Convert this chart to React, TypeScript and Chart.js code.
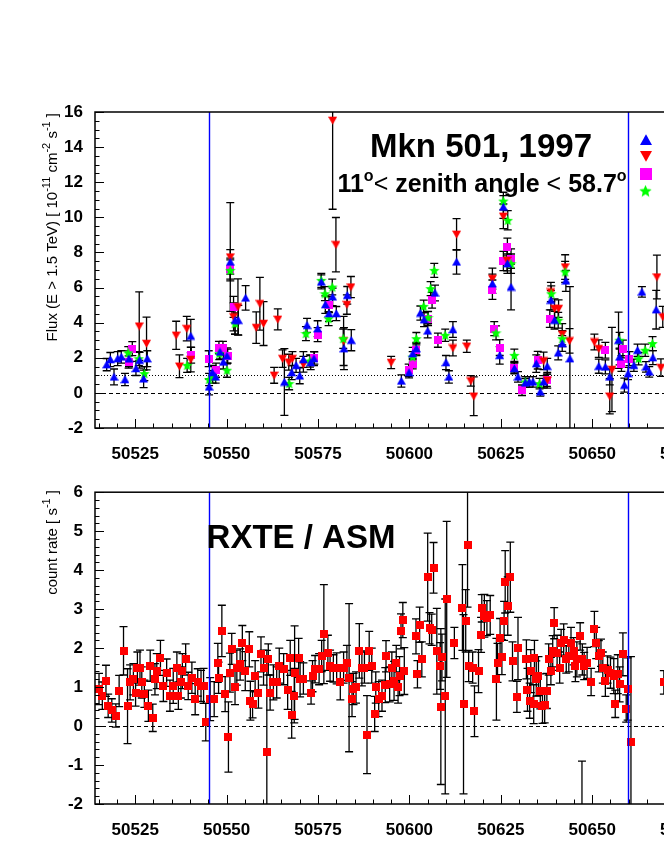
import React, { useEffect, useRef } from 'react';
import { Chart, registerables } from 'chart.js';

Chart.register(...registerables);

const FONT = '"Liberation Sans", Arial, Helvetica, sans-serif';

// ---------------- axis ranges / ticks ----------------
const X_MIN = 50514;
const X_MAX = 50700;
const X_STEP = 25;
const FLUX_MIN = -2;
const FLUX_MAX = 16;
const FLUX_STEP = 2;
const RATE_MIN = -2;
const RATE_MAX = 6;
const RATE_STEP = 1;
const markerDays = [50545.1, 50659.8];

// ---------------- TeV flux: blue upward triangles ----------------
const triDays = [50517.2, 50518.2, 50519.2, 50520.2, 50521.2, 50522.2, 50523.3, 50525.2, 50526.2, 50527.3, 50528.3,
  50540.2,
  50545.2, 50546.1, 50547.0, 50548.2, 50549.1, 50550.1, 50551.0, 50552.3, 50553.2, 50555.2,
  50565.8, 50567.8, 50569.0, 50570.0, 50571.0, 50572.0, 50573.0, 50573.9, 50574.9, 50575.9, 50577.0, 50578.0, 50579.0, 50580.0, 50582.1, 50583.0, 50584.1,
  50597.8, 50599.9, 50600.9, 50601.9, 50603.0, 50604.0, 50605.0, 50607.0, 50610.0, 50610.8, 50611.9, 50612.9,
  50622.7, 50624.7, 50625.7, 50626.8, 50627.8, 50628.7, 50629.7, 50631.7, 50632.8, 50633.8, 50634.7, 50635.8, 50636.7, 50637.7, 50638.7, 50639.7, 50640.7, 50641.8, 50642.8, 50643.9,
  50651.8, 50653.6, 50654.8, 50657.2, 50657.5, 50658.8, 50659.8, 50661.4, 50662.4, 50663.6, 50664.7, 50665.6, 50666.6, 50667.5];
const triFlux = [1.61, 1.90, 0.91, 1.95, 2.05, 0.76, 1.94, 1.39, 1.86, 0.80, 1.95,
  3.24,
  0.34, 1.16, 0.91, 2.33, 1.76, 2.11, 7.46, 4.14, 4.14, 5.41,
  0.62, 1.16, 1.57, 0.97, 1.90, 3.85, 1.73, 1.95, 3.66, 6.32, 5.03, 4.52, 5.47, 4.52, 2.52, 5.56, 3.00,
  0.68, 1.16, 2.24, 2.52, 4.55, 4.17, 3.53, 5.69, 1.73, 0.91, 3.61, 7.46,
  6.22, 2.14, 10.59, 7.36, 6.03, 1.39, 0.91, 0.57, 0.63, 0.63, 1.67, 0.06, 0.63, 1.52, 5.28, 4.14, 2.28, 2.81, 6.38, 1.95,
  1.52, 1.48, 0.91, 3.00, 2.05, 0.44, 1.10, 1.57, 2.43, 5.75, 1.48, 1.20, 2.01, 4.74];
const triErr = [0.35, 0.40, 0.45, 0.40, 0.35, 0.35, 0.45, 0.40, 0.45, 0.50, 0.45,
  0.95,
  0.45, 0.40, 0.35, 0.40, 0.40, 0.45, 0.70, 0.80, 0.85, 0.70,
  1.90, 0.40, 0.40, 0.45, 0.45, 0.40, 0.40, 0.40, 0.45, 0.40, 0.50, 0.45, 0.50, 0.40, 1.20, 0.50, 0.60,
  0.35, 0.30, 0.35, 0.35, 0.40, 0.40, 0.40, 0.45, 0.40, 0.35, 0.45, 0.70,
  0.55, 0.50, 0.65, 0.55, 1.30, 0.30, 0.30, 0.25, 0.30, 0.30, 0.50, 0.25, 0.35, 0.45, 0.55, 0.50, 0.40, 0.45, 0.60, 4.10,
  0.40, 0.40, 0.45, 1.60, 0.45, 0.40, 0.35, 0.35, 0.35, 0.30, 0.30, 0.30, 0.40, 1.10];

// ---------------- TeV flux: red downward triangles ----------------
const invDays = [50526.1, 50528.1, 50536.2, 50537.1, 50539.1, 50540.2, 50551.0, 50551.9, 50553.1, 50558.1, 50559.1, 50560.1, 50563.0, 50564.0, 50565.3, 50567.0, 50568.0, 50571.0, 50579.0, 50579.9, 50582.0, 50582.9, 50584.0, 50595.0, 50611.9, 50612.9, 50615.7, 50616.8, 50617.6, 50622.7, 50625.7, 50626.7, 50636.7, 50637.7, 50638.7, 50639.7, 50640.8, 50641.8, 50642.6, 50643.8, 50650.6, 50651.8, 50654.8, 50655.4, 50667.7, 50668.8, 50669.3];
const invFlux = [3.80, 2.81, 3.28, 1.52, 3.66, 1.90, 7.74, 4.33, 4.90, 3.72, 5.08, 3.95, 1.00, 4.19, 1.95, 1.75, 1.95, 1.63, 15.52, 8.44, 2.96, 5.03, 6.03, 1.73, 2.56, 9.03, 2.66, 0.68, -0.19, 6.51, 10.06, 7.55, 1.82, 0.72, 5.75, 4.80, 4.80, 3.34, 7.17, 2.96, 2.90, 2.52, -0.19, 1.33, 6.60, 1.44, 4.33];
const invErr = [1.95, 1.50, 0.80, 0.65, 0.70, 0.70, 3.10, 0.80, 1.60, 0.90, 1.50, 1.25, 0.45, 0.60, 0.50, 0.45, 0.40, 0.45, 5.06, 1.55, 1.40, 0.55, 0.60, 0.35, 0.45, 0.90, 0.35, 0.30, 1.10, 0.60, 0.70, 0.60, 0.50, 0.45, 0.55, 0.55, 0.50, 0.60, 0.70, 0.70, 0.45, 0.50, 1.00, 2.40, 1.25, 0.50, 0.60];

// ---------------- TeV flux: magenta squares ----------------
const sqDays = [50523.2, 50524.2, 50540.3, 50545.1, 50547.1, 50547.9, 50549.0, 50550.3, 50551.0, 50551.9, 50574.0, 50574.9, 50578.0, 50599.8, 50600.9, 50601.9, 50605.1, 50606.2, 50607.8, 50622.7, 50623.2, 50624.7, 50625.7, 50626.8, 50627.8, 50628.7, 50630.8, 50635.1, 50637.6, 50638.4, 50653.6, 50658.0, 50658.4, 50660.2];
const sqFlux = [1.76, 2.52, 2.14, 1.95, 1.29, 2.58, 2.58, 2.09, 7.08, 4.90, 1.99, 3.32, 5.03, 1.29, 1.67, 2.47, 4.23, 5.28, 3.00, 5.88, 3.66, 2.58, 7.51, 8.31, 7.65, 1.44, 0.15, 1.86, 0.72, 4.23, 2.43, 1.67, 2.50, 1.95];
const sqErr = [0.35, 0.40, 0.45, 0.45, 0.40, 0.35, 0.35, 0.40, 0.60, 0.60, 0.35, 0.40, 0.45, 0.35, 0.30, 0.35, 0.40, 0.45, 0.40, 0.55, 0.40, 0.45, 0.55, 0.50, 0.55, 0.30, 0.30, 0.50, 0.35, 0.50, 0.45, 0.45, 0.50, 0.40];

// ---------------- TeV flux: green stars ----------------
const starDays = [50523.1, 50526.0, 50527.5, 50539.2, 50545.2, 50546.2, 50548.0, 50550.1, 50551.0, 50552.3, 50567.1, 50571.7, 50572.8, 50575.9, 50576.9, 50577.9, 50578.9, 50581.9, 50600.9, 50601.9, 50603.9, 50605.1, 50605.8, 50606.8, 50609.8, 50623.7, 50625.7, 50626.9, 50627.8, 50628.7, 50631.7, 50635.6, 50638.8, 50640.7, 50641.8, 50642.6, 50657.5, 50662.7, 50664.5, 50666.5];
const starFlux = [2.28, 1.95, 1.10, 1.57, 0.76, 0.91, 2.24, 1.29, 6.98, 3.95, 0.53, 3.38, 1.82, 6.41, 5.65, 4.23, 6.03, 3.09, 2.05, 3.09, 4.93, 4.29, 5.94, 6.98, 3.28, 3.42, 10.93, 9.83, 7.36, 2.14, 0.63, 0.53, 5.65, 4.14, 3.09, 6.89, 3.00, 1.95, 2.43, 2.81];
const starErr = [0.35, 0.40, 0.40, 0.40, 0.35, 0.35, 0.35, 0.40, 0.60, 0.60, 0.35, 0.40, 0.35, 0.40, 0.40, 0.40, 0.45, 0.55, 0.30, 0.35, 0.35, 0.35, 0.40, 0.40, 0.35, 0.40, 0.50, 0.55, 0.55, 0.35, 0.30, 0.30, 0.45, 0.45, 0.45, 0.60, 0.45, 0.35, 0.35, 0.40];

// ---------------- RXTE / ASM count rate ----------------
const asmDays = [
  50515.1, 50516.0, 50517.0, 50517.6, 50518.6, 50519.7, 50520.6, 50521.8, 50522.9, 50523.6,
  50524.5, 50525.1, 50525.6, 50526.3, 50526.8, 50527.5, 50528.6, 50529.1, 50529.8, 50530.4,
  50530.9, 50531.9, 50532.7, 50533.6, 50534.5, 50535.4, 50536.4, 50536.8, 50537.5, 50537.9,
  50538.8, 50539.5, 50540.5, 50541.4, 50542.1, 50543.0, 50543.7, 50544.3, 50545.5, 50546.6,
  50547.6, 50547.8, 50548.7, 50549.6, 50550.5, 50550.9, 50551.4, 50552.3, 50552.8, 50553.7,
  50554.3, 50555.1, 50556.2, 50556.5, 50557.1, 50557.8, 50558.7, 50559.4, 50560.1, 50561.0,
  50561.4, 50561.9, 50562.8, 50563.7, 50564.4, 50565.6, 50566.7, 50567.4, 50567.8, 50568.5,
  50568.6, 50569.7, 50570.1, 50571.0, 50573.1, 50573.5, 50574.2, 50575.3, 50576.0, 50576.6,
  50577.7, 50578.3, 50579.2, 50580.1, 50581.1, 50582.0, 50582.9, 50583.5, 50584.3, 50584.7,
  50585.4, 50586.3, 50587.0, 50587.7, 50588.4, 50589.0, 50589.7, 50590.5, 50590.8, 50591.6,
  50592.5, 50593.4, 50593.6, 50594.6, 50595.2, 50595.8, 50596.4, 50596.9, 50597.3, 50597.7,
  50598.2, 50598.6, 50601.8, 50602.2, 50602.8, 50603.4, 50605.0, 50605.5, 50606.1, 50606.6,
  50607.5, 50608.4, 50608.6, 50608.9, 50609.8, 50610.2, 50612.3, 50614.5, 50614.8, 50615.4,
  50615.9, 50616.2, 50617.3, 50617.8, 50618.9, 50619.6, 50619.8, 50620.5, 50621.2, 50622.1,
  50623.8, 50624.1, 50624.8, 50625.3, 50625.9, 50626.2, 50626.9, 50627.6, 50628.2, 50629.4,
  50629.7, 50632.0, 50632.3, 50632.9, 50633.2, 50634.0, 50634.2, 50634.7, 50635.3, 50635.8,
  50636.4, 50637.0, 50637.6, 50638.1, 50638.7, 50639.2, 50639.6, 50640.4, 50641.1, 50641.5,
  50642.2, 50642.9, 50643.6, 50644.2, 50644.9, 50645.4, 50645.8, 50646.7, 50647.2, 50647.3,
  50647.8, 50648.6, 50649.7, 50650.6, 50651.1, 50651.8, 50652.4, 50652.9, 50653.6, 50654.2,
  50655.0, 50655.9, 50656.3, 50657.0, 50657.5, 50658.4, 50659.3, 50659.7, 50660.6, 50669.6];
const asmRate = [
  0.95, 0.78, 1.16, 0.52, 0.40, 0.27, 0.90, 1.93, 0.51, 1.12,
  1.20, 0.86, 1.50, 1.50, 1.12, 0.83, 0.52, 1.55, 0.21, 1.20,
  1.41, 1.75, 1.03, 1.37, 0.78, 1.03, 1.50, 0.78, 1.12, 1.41,
  1.71, 1.03, 1.24, 0.69, 1.12, 1.03, 1.03, 0.10, 0.69, 0.69,
  1.62, 1.24, 2.44, 0.82, -0.28, 1.37, 1.98, 1.00, 1.50, 1.58,
  2.13, 1.41, 1.97, 0.65, 0.56, 1.28, 0.86, 1.84, 1.50, -0.66,
  1.71, 0.86, 1.12, 1.12, 1.55, 1.46, 0.93, 1.75, 0.29, 0.78,
  1.37, 1.75, 1.20, 1.22, 0.86, 1.28, 1.46, 1.46, 1.80, 2.36,
  1.88, 1.55, 1.48, 1.48, 1.12, 1.50, 1.62, 1.24, 0.69, 0.95,
  0.99, 1.93, 1.48, 1.50, -0.22, 1.93, 1.55, 0.31, 0.99, 0.69,
  0.78, 1.05, 1.79, 1.07, 1.50, 1.16, 1.62, 0.99, 1.28, 2.43,
  2.72, 1.41, 2.30, 1.33, 2.60, 1.71, 3.82, 2.51, 2.47, 4.06,
  1.92, 1.54, 0.50, 1.76, 0.76, 3.25, 2.13, 3.04, 0.56, 2.70,
  4.65, 1.54, 1.50, 0.38, 1.41, 2.34, 3.02, 2.83, 2.77, 2.85,
  1.20, 1.62, 2.26, 1.77, 2.70, 3.70, 3.08, 3.82, 1.66, 0.75,
  1.99, 1.71, 0.93, 0.65, 1.41, 0.56, 1.75, 1.22, 1.28, 0.89,
  0.52, 0.53, 0.90, 1.71, 1.41, 1.92, 2.64, 1.88, 1.50, 2.13,
  2.22, 1.71, 1.79, 2.13, 1.92, 1.54, 1.71, 2.30, -3.20, 1.71,
  1.54, 1.62, 1.13, 2.49, 2.13, 1.79, 1.88, 1.50, 1.16, 1.45,
  1.37, 1.28, 0.57, 1.33, 1.07, 1.84, 0.45, 0.95, -0.42, 1.12];
const asmErr = [
  0.40, 0.35, 0.40, 0.30, 0.30, 0.30, 0.40, 0.62, 0.96, 0.45,
  0.40, 0.35, 0.40, 0.45, 0.40, 0.35, 0.40, 0.40, 0.35, 0.40,
  0.45, 0.45, 0.40, 0.35, 0.40, 0.45, 0.40, 0.35, 0.40, 0.45,
  0.40, 0.35, 0.40, 0.40, 0.35, 0.40, 0.45, 0.48, 0.55, 0.45,
  0.50, 0.40, 0.66, 0.45, 0.90, 0.50, 0.40, 0.45, 0.45, 0.40,
  0.45, 0.50, 0.45, 0.50, 0.35, 0.40, 0.40, 0.45, 0.45, 2.60,
  0.40, 0.45, 0.45, 0.40, 0.45, 0.40, 0.50, 0.45, 0.60, 0.70,
  1.20, 0.50, 0.45, 0.40, 0.30, 0.40, 0.35, 0.40, 0.40, 1.27,
  0.45, 0.40, 0.35, 0.40, 0.45, 0.40, 0.45, 1.90, 0.45, 0.40,
  0.40, 0.70, 0.45, 0.40, 1.00, 0.50, 0.45, 0.45, 0.40, 0.45,
  0.40, 0.45, 0.40, 0.45, 0.40, 0.50, 0.45, 0.40, 0.50, 0.45,
  0.45, 0.60, 0.45, 0.35, 0.45, 0.45, 1.13, 0.40, 0.40, 0.65,
  1.10, 0.60, 2.00, 0.60, 2.50, 2.00, 0.40, 1.10, 2.30, 0.80,
  1.60, 0.40, 0.40, 0.65, 0.55, 0.45, 0.35, 0.55, 0.45, 0.50,
  1.05, 0.50, 0.50, 0.45, 0.50, 0.80, 0.75, 0.90, 0.50, 0.40,
  0.80, 0.50, 0.55, 0.45, 0.55, 0.50, 0.45, 0.45, 0.50, 0.45,
  0.45, 0.45, 0.45, 0.40, 0.35, 0.40, 0.40, 0.45, 0.40, 0.35,
  0.40, 0.35, 0.40, 0.40, 0.35, 0.40, 0.45, 0.35, 2.30, 0.40,
  0.35, 0.40, 0.35, 0.45, 0.40, 0.40, 0.35, 0.40, 0.40, 0.35,
  0.40, 0.45, 0.35, 0.50, 0.45, 0.55, 0.35, 0.80, 2.20, 0.30];

// ---------------- layout constants ----------------
const CW = 815;
const LEFT_W = 95;
const PAD_R = 40;
const TOP_H = 470;
const BOT_H = 390;
const BOT_OFFSET = 470;

type Kind = 'up' | 'down' | 'square' | 'star';

function marker(kind: Kind, color: string, size: number): HTMLCanvasElement {
  const c = document.createElement('canvas');
  c.width = size;
  c.height = size;
  const g = c.getContext('2d')!;
  g.fillStyle = color;
  g.beginPath();
  const s = size;
  if (kind === 'up') {
    g.moveTo(s / 2, 0.3);
    g.lineTo(s, s * 0.92);
    g.lineTo(0, s * 0.92);
  } else if (kind === 'down') {
    g.moveTo(0, s * 0.08);
    g.lineTo(s, s * 0.08);
    g.lineTo(s / 2, s - 0.3);
  } else if (kind === 'square') {
    g.rect(0, 0, s, s);
  } else {
    const R = s / 2;
    const r = R * 0.45;
    for (let k = 0; k < 10; k++) {
      const a = -Math.PI / 2 + (k * Math.PI) / 5;
      const rad = k % 2 === 0 ? R : r;
      const px = s / 2 + rad * Math.cos(a);
      const py = s / 2 + 0.4 + rad * Math.sin(a);
      if (k === 0) g.moveTo(px, py);
      else g.lineTo(px, py);
    }
  }
  g.closePath();
  g.fill();
  return c;
}

function pts(days: number[], vals: number[], errs: number[]) {
  return days.map((x, i) => ({ x, y: vals[i], e: errs[i] }));
}

const errorBarPlugin = {
  id: 'errorBars',
  beforeDatasetsDraw(chart: any) {
    const { ctx, chartArea: a } = chart;
    const ys = chart.scales.y;
    ctx.save();
    ctx.beginPath();
    ctx.rect(a.left, a.top, a.right - a.left, a.bottom - a.top);
    ctx.clip();
    ctx.strokeStyle = '#000';
    ctx.lineWidth = 1.3;
    chart.data.datasets.forEach((ds: any, di: number) => {
      const meta = chart.getDatasetMeta(di);
      ds.data.forEach((p: any, i: number) => {
        const el = meta.data[i];
        if (!el) return;
        const x = el.x;
        const y1 = ys.getPixelForValue(p.y + p.e);
        const y2 = ys.getPixelForValue(p.y - p.e);
        ctx.beginPath();
        ctx.moveTo(x, y1);
        ctx.lineTo(x, y2);
        ctx.moveTo(x - 4, y1);
        ctx.lineTo(x + 4, y1);
        ctx.moveTo(x - 4, y2);
        ctx.lineTo(x + 4, y2);
        ctx.stroke();
      });
    });
    ctx.restore();
  },
};

function refLinesPlugin(dottedAtOne: boolean) {
  return {
    id: 'refLines',
    beforeDatasetsDraw(chart: any) {
      const { ctx, chartArea: a } = chart;
      const ys = chart.scales.y;
      ctx.save();
      ctx.strokeStyle = '#000';
      ctx.lineWidth = 1;
      const y0 = Math.round(ys.getPixelForValue(0)) + 0.5;
      ctx.setLineDash([4, 3]);
      ctx.beginPath();
      ctx.moveTo(a.left, y0);
      ctx.lineTo(a.right, y0);
      ctx.stroke();
      if (dottedAtOne) {
        const y1 = Math.round(ys.getPixelForValue(1)) + 0.5;
        ctx.setLineDash([1, 2]);
        ctx.beginPath();
        ctx.moveTo(a.left, y1);
        ctx.lineTo(a.right, y1);
        ctx.stroke();
      }
      ctx.restore();
    },
  };
}

const blueLinesPlugin = {
  id: 'blueLines',
  afterDatasetsDraw(chart: any) {
    const { ctx, chartArea: a } = chart;
    const xs = chart.scales.x;
    ctx.save();
    ctx.strokeStyle = 'rgb(0,0,255)';
    ctx.lineWidth = 1.4;
    ctx.setLineDash([]);
    markerDays.forEach((d) => {
      const px = Math.round(xs.getPixelForValue(d)) + 0.5;
      ctx.beginPath();
      ctx.moveTo(px, a.top);
      ctx.lineTo(px, a.bottom);
      ctx.stroke();
    });
    ctx.restore();
  },
};

function frameTicksPlugin(yMin: number, yMax: number, yMinor: number, yMajorEvery: number) {
  return {
    id: 'frameTicks',
    afterDraw(chart: any) {
      const { ctx, chartArea: a } = chart;
      const xs = chart.scales.x;
      const ys = chart.scales.y;
      ctx.save();
      ctx.strokeStyle = '#000';
      ctx.lineWidth = 1;
      ctx.beginPath();
      for (let d = Math.ceil(X_MIN / 5) * 5; d <= X_MAX; d += 5) {
        const px = Math.round(xs.getPixelForValue(d)) + 0.5;
        const len = d % 25 === 0 ? 9 : 4.5;
        ctx.moveTo(px, a.bottom);
        ctx.lineTo(px, a.bottom - len);
      }
      const n = Math.round((yMax - yMin) / yMinor);
      for (let k = 0; k <= n; k++) {
        const v = yMin + k * yMinor;
        const py = Math.round(ys.getPixelForValue(v)) + 0.5;
        const len = k % yMajorEvery === 0 ? 9 : 4.5;
        ctx.moveTo(a.left, py);
        ctx.lineTo(a.left + len, py);
      }
      ctx.stroke();
      ctx.lineWidth = 1.5;
      ctx.strokeRect(a.left, a.top, a.right - a.left, a.bottom - a.top);
      ctx.restore();
    },
  };
}

type Seg = { t: string; sup?: boolean };

function drawVTitle(ctx: CanvasRenderingContext2D, segs: Seg[], xBase: number, yEnd: number, size: number) {
  const nf = `${size}px ${FONT}`;
  const sf = `${Math.round(size * 0.7)}px ${FONT}`;
  let total = 0;
  segs.forEach((s) => {
    ctx.font = s.sup ? sf : nf;
    total += ctx.measureText(s.t).width;
  });
  ctx.save();
  ctx.translate(xBase, yEnd);
  ctx.rotate(-Math.PI / 2);
  ctx.textAlign = 'left';
  ctx.textBaseline = 'alphabetic';
  ctx.fillStyle = '#000';
  let x = -total;
  segs.forEach((s) => {
    ctx.font = s.sup ? sf : nf;
    ctx.fillText(s.t, x, s.sup ? -size * 0.45 : 0);
    x += ctx.measureText(s.t).width;
  });
  ctx.restore();
}

type RSeg = { t: string; f: string; dy: number };
function drawRich(ctx: CanvasRenderingContext2D, segs: RSeg[], cx: number, base: number) {
  let total = 0;
  segs.forEach((s) => {
    ctx.font = s.f;
    total += ctx.measureText(s.t).width;
  });
  ctx.save();
  ctx.textAlign = 'left';
  ctx.textBaseline = 'alphabetic';
  ctx.fillStyle = '#000';
  let x = cx - total / 2;
  segs.forEach((s) => {
    ctx.font = s.f;
    ctx.fillText(s.t, x, base + s.dy);
    x += ctx.measureText(s.t).width;
  });
  ctx.restore();
}

function xAxis(height: number) {
  return {
    type: 'linear',
    position: 'bottom',
    min: X_MIN,
    max: X_MAX,
    grid: { display: false, drawTicks: false },
    border: { display: false },
    ticks: {
      stepSize: X_STEP,
      includeBounds: false,
      autoSkip: false,
      maxRotation: 0,
      padding: 16,
      color: '#000',
      font: { family: FONT, size: 17, weight: 'bold' },
      callback: (v: any) => String(v),
    },
    afterFit: (s: any) => {
      s.height = height;
    },
  };
}

function yAxis(min: number, max: number, step: number) {
  return {
    type: 'linear',
    position: 'left',
    min,
    max,
    grid: { display: false, drawTicks: false },
    border: { display: false },
    ticks: {
      stepSize: step,
      padding: 12,
      color: '#000',
      font: { family: FONT, size: 17, weight: 'bold' },
      callback: (v: any) => String(v),
    },
    afterFit: (s: any) => {
      s.width = LEFT_W;
    },
  };
}

export default function App() {
  const topRef = useRef<HTMLCanvasElement>(null);
  const botRef = useRef<HTMLCanvasElement>(null);

  useEffect(() => {
    const mTri = marker('up', '#0000ff', 9);
    const mInv = marker('down', '#ff0000', 9);
    const mSq = marker('square', '#ff00ff', 8);
    const mStar = marker('star', '#00ff00', 11);
    const mAsm = marker('square', '#ff0000', 8);
    const lTri = marker('up', '#0000ff', 12);
    const lInv = marker('down', '#ff0000', 12);
    const lSq = marker('square', '#ff00ff', 12);
    const lStar = marker('star', '#00ff00', 13);

    const topTexts = {
      id: 'topTexts',
      afterDraw(chart: any) {
        const ctx: CanvasRenderingContext2D = chart.ctx;
        ctx.save();
        ctx.fillStyle = '#000';
        ctx.textAlign = 'center';
        ctx.textBaseline = 'alphabetic';
        ctx.font = `bold 33px ${FONT}`;
        ctx.fillText('Mkn 501, 1997', 481, 157);
        ctx.restore();
        const b24 = `bold 25px ${FONT}`;
        const n24 = `25px ${FONT}`;
        const b15 = `bold 16px ${FONT}`;
        drawRich(ctx, [
          { t: '11', f: b24, dy: 0 },
          { t: 'o', f: b15, dy: -11 },
          { t: '<', f: n24, dy: 0 },
          { t: ' zenith angle ', f: b24, dy: 0 },
          { t: '<', f: n24, dy: 0 },
          { t: ' 58.7', f: b24, dy: 0 },
          { t: 'o', f: b15, dy: -11 },
        ], 482, 192);
        ctx.drawImage(lTri, 646 - 6, 140 - 6);
        ctx.drawImage(lInv, 646 - 6, 156 - 6);
        ctx.drawImage(lSq, 645.5 - 6, 174 - 6);
        ctx.drawImage(lStar, 645.5 - 6.5, 191 - 6.5);
        drawVTitle(ctx, [
          { t: 'Flux (E > 1.5 TeV) [ 10' },
          { t: '-11', sup: true },
          { t: ' cm' },
          { t: '-2', sup: true },
          { t: ' s' },
          { t: '-1', sup: true },
          { t: ' ]' },
        ], 57, 113, 15);
      },
    };

    const botTexts = {
      id: 'botTexts',
      afterDraw(chart: any) {
        const ctx: CanvasRenderingContext2D = chart.ctx;
        ctx.save();
        ctx.fillStyle = '#000';
        ctx.textAlign = 'center';
        ctx.textBaseline = 'alphabetic';
        ctx.font = `bold 33px ${FONT}`;
        ctx.fillText('RXTE / ASM', 301, 548 - BOT_OFFSET);
        ctx.restore();
        drawVTitle(ctx, [
          { t: 'count rate [ s' },
          { t: '-1', sup: true },
          { t: ' ]' },
        ], 57, 490 - BOT_OFFSET, 15);
      },
    };

    const common = {
      responsive: false,
      maintainAspectRatio: false,
      animation: false,
      events: [] as any[],
      plugins: { legend: { display: false }, tooltip: { enabled: false } },
    };

    const top = new Chart(topRef.current!, {
      type: 'scatter',
      data: {
        datasets: [
          { label: 'tri', data: pts(triDays, triFlux, triErr), pointStyle: mTri, pointRadius: 4 },
          { label: 'star', data: pts(starDays, starFlux, starErr), pointStyle: mStar, pointRadius: 4 },
          { label: 'inv', data: pts(invDays, invFlux, invErr), pointStyle: mInv, pointRadius: 4 },
          { label: 'sq', data: pts(sqDays, sqFlux, sqErr), pointStyle: mSq, pointRadius: 4 },
        ] as any,
      },
      options: {
        ...common,
        layout: { padding: { left: 0, right: PAD_R, top: 112, bottom: 0 } },
        scales: {
          x: xAxis(TOP_H - 428),
          y: yAxis(FLUX_MIN, FLUX_MAX, FLUX_STEP),
        } as any,
      } as any,
      plugins: [refLinesPlugin(true), errorBarPlugin, blueLinesPlugin, frameTicksPlugin(FLUX_MIN, FLUX_MAX, 0.5, 4), topTexts],
    });

    const bot = new Chart(botRef.current!, {
      type: 'scatter',
      data: {
        datasets: [
          { label: 'asm', data: pts(asmDays, asmRate, asmErr), pointStyle: mAsm, pointRadius: 4 },
        ] as any,
      },
      options: {
        ...common,
        layout: { padding: { left: 0, right: PAD_R, top: 489 - BOT_OFFSET, bottom: 0 } },
        scales: {
          x: xAxis(BOT_H - (804 - BOT_OFFSET)),
          y: yAxis(RATE_MIN, RATE_MAX, RATE_STEP),
        } as any,
      } as any,
      plugins: [refLinesPlugin(false), errorBarPlugin, blueLinesPlugin, frameTicksPlugin(RATE_MIN, RATE_MAX, 0.2, 5), botTexts],
    });

    return () => {
      top.destroy();
      bot.destroy();
    };
  }, []);

  return (
    <div style={{ position: 'absolute', left: 0, top: 0, width: 664, height: 860, overflow: 'hidden', background: '#fff' }}>
      <canvas ref={topRef} width={CW} height={TOP_H} style={{ position: 'absolute', left: 0, top: 0 }} />
      <canvas ref={botRef} width={CW} height={BOT_H} style={{ position: 'absolute', left: 0, top: BOT_OFFSET }} />
    </div>
  );
}
